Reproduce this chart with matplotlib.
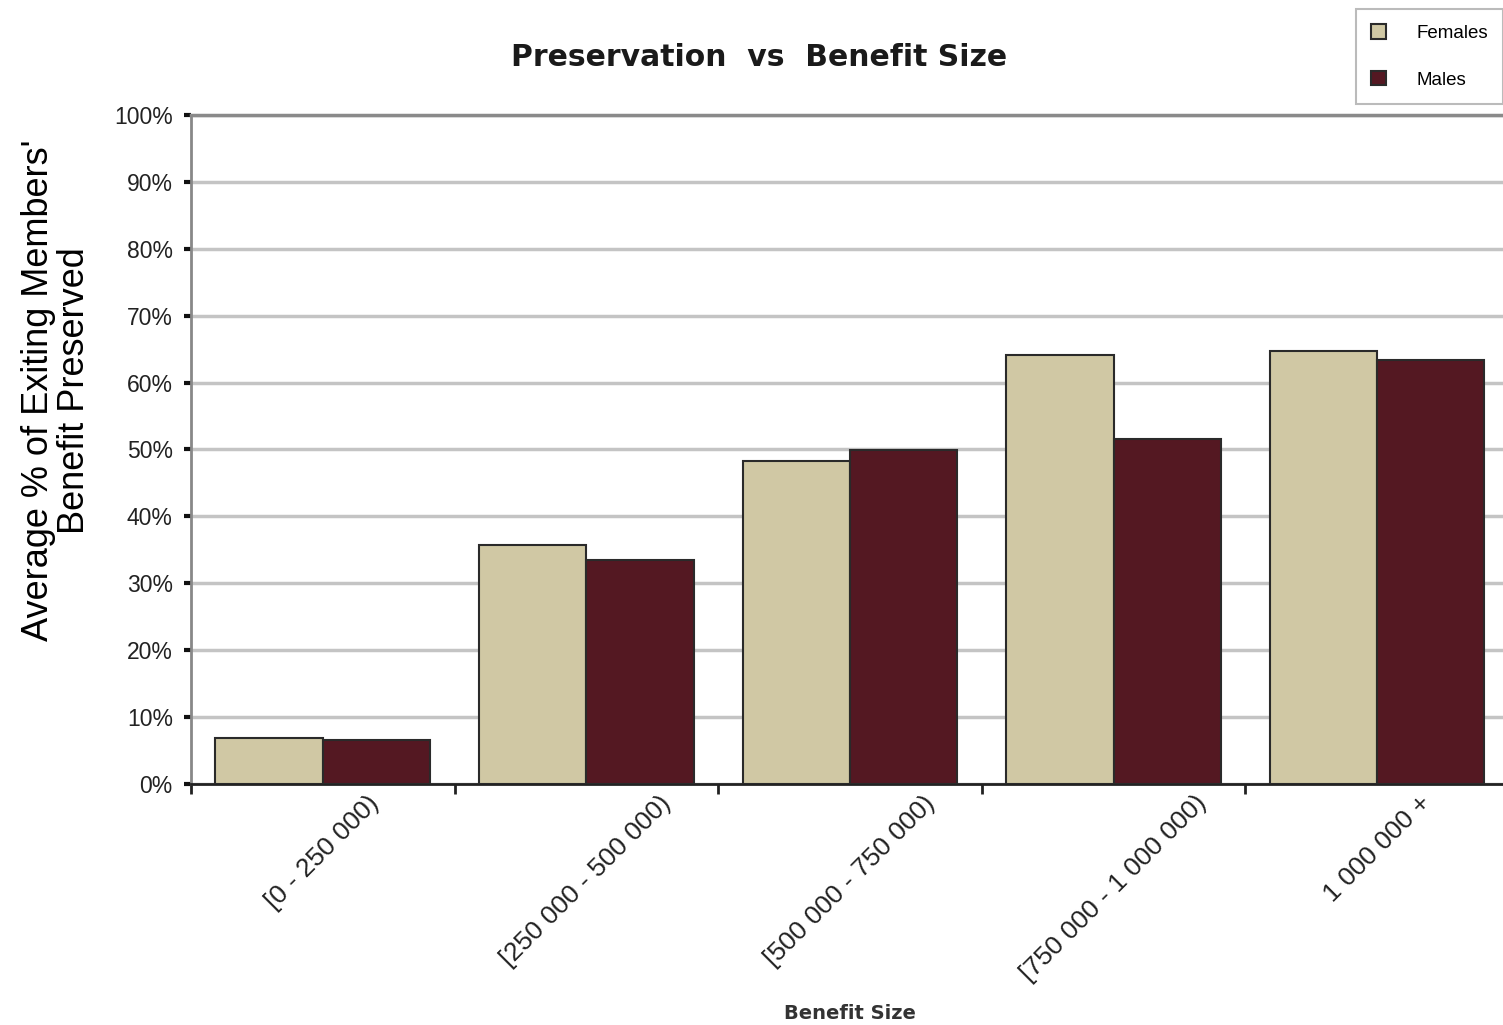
import matplotlib.pyplot as plt
import numpy as np

plt.rcParams.update({
    "font.family": "Liberation Sans",
    "font.size": 14,
})

categories = ["[0 - 250 000)", "[250 000 - 500 000)", "[500 000 - 750 000)",
              "[750 000 - 1 000 000)", "1 000 000 +"]
females = [6.9, 35.7, 48.3, 64.1, 64.7]
males = [6.6, 33.5, 49.9, 51.6, 63.4]
y_ticks = [0, 10, 20, 30, 40, 50, 60, 70, 80, 90, 100]

female_color = "#d0c8a4"
male_color = "#541822"


def main():
    fig = plt.figure(figsize=(15.03, 10.25), dpi=100)
    ax = fig.add_axes([0.127, 0.235, 0.877, 0.653])
    ax.set_axisbelow(True)

    x = np.arange(len(categories))
    width = 0.407

    ax.bar(x - width / 2, females, width, color=female_color,
           edgecolor="#2a2a2a", linewidth=1.5, label="Females", zorder=3)
    ax.bar(x + width / 2, males, width, color=male_color,
           edgecolor="#2a2a2a", linewidth=1.5, label="Males", zorder=3)

    ax.set_xlim(-0.5, len(categories) - 0.5)
    ax.set_ylim(0, 100)

    # light horizontal grid, darker line at 100 %
    ax.set_yticks(y_ticks)
    ax.set_yticklabels([f"{v}%" for v in y_ticks], fontsize=16.5, color="#222222")
    ax.yaxis.grid(True, color="#c4c4c4", linewidth=2.5)
    ax.axhline(100, color="#8a8a8a", linewidth=2.5, zorder=2, clip_on=False)

    # group boundaries carry the x ticks
    ax.set_xticks(np.arange(-0.5, len(categories) + 0.5, 1.0))
    ax.set_xticklabels([])
    ax.set_xticks(x, minor=True)
    ax.set_xticklabels(categories, minor=True, rotation=45, ha="center",
                       va="top", fontsize=19, color="#222222")
    ax.tick_params(axis="x", which="minor", length=0, pad=5)
    ax.tick_params(axis="x", which="major", length=7, width=2, color="#222222")
    ax.tick_params(axis="y", length=5, width=3, color="#111111", pad=8)

    for side in ["top", "right"]:
        ax.spines[side].set_visible(False)
    ax.spines["left"].set_color("#888888")
    ax.spines["left"].set_linewidth(2)
    ax.spines["bottom"].set_color("#222222")
    ax.spines["bottom"].set_linewidth(2)

    ax.set_xlabel("Benefit Size", fontsize=14, fontweight="bold",
                  family="DejaVu Sans", color="#333333")
    ax.xaxis.set_label_coords(0.5, -0.342)
    ax.xaxis.label.set_va("center")
    ax.set_ylabel("Average % of Exiting Members'\nBenefit Preserved",
                  fontsize=26, linespacing=1.02)
    ax.yaxis.set_label_coords(-0.102, 0.588)
    ax.yaxis.label.set_va("center")

    fig.text(0.505, 0.944, "Preservation  vs  Benefit Size", ha="center",
             va="center", fontsize=21.5, fontweight="bold", family="DejaVu Sans",
             color="#1a1a1a")

    leg = ax.legend(loc="upper right", bbox_to_anchor=(1.006, 1.0),
                    bbox_transform=fig.transFigure, fontsize=13.5, frameon=True,
                    fancybox=False, edgecolor="#aaaaaa", handlelength=0.8,
                    handleheight=0.8, borderpad=0.8, labelspacing=1.55,
                    handletextpad=1.6)
    leg.get_frame().set_linewidth(1.5)

    fig.savefig("out.png", dpi=100)


if __name__ == "__main__":
    main()
